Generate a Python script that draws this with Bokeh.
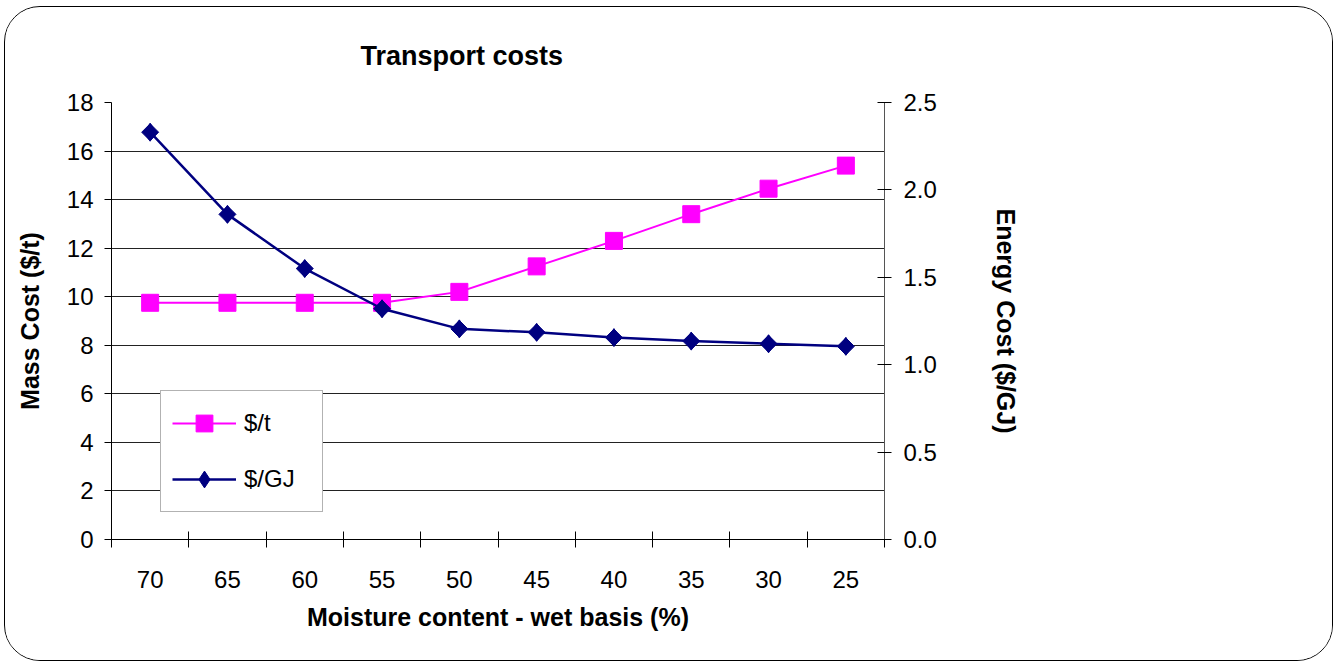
import math
from bokeh.plotting import figure
from bokeh.models import (Range1d, LinearAxis, FixedTicker, NumeralTickFormatter,
                          Legend, LegendItem, ColumnDataSource)
from bokeh.embed import file_html
from bokeh.resources import INLINE

# ---- data ----
title_text = "Transport costs"
categories = ["70", "65", "60", "55", "50", "45", "40", "35", "30", "25"]
mass_cost = [9.75, 9.75, 9.75, 9.75, 10.2, 11.25, 12.3, 13.4, 14.45, 15.4]      # $/t
energy_cost = [2.33, 1.86, 1.55, 1.32, 1.205, 1.185, 1.155, 1.135, 1.12, 1.105]  # $/GJ
left_ticks = [0, 2, 4, 6, 8, 10, 12, 14, 16, 18]
right_ticks = [0.0, 0.5, 1.0, 1.5, 2.0, 2.5]

FONT = "Liberation Sans"
PINK = "#FF00FF"
NAVY = "#000080"
TXT = "black"

n = len(categories)
centers = [i + 0.5 for i in range(n)]
bounds = [i for i in range(n + 1)]

src = ColumnDataSource(dict(x=centers, mass=mass_cost, energy=energy_cost,
                            cat=categories))

W, H = 1329, 655
BL, BR, BT, BB = 106, 450, 95, 123

p = figure(width=W, height=H, x_range=Range1d(0, n), y_range=Range1d(0, 18),
           output_backend="svg", toolbar_location=None,
           min_border_left=BL, min_border_right=BR,
           min_border_top=BT, min_border_bottom=BB,
           x_axis_location=None, y_axis_location=None)
p.styles = {"margin-left": "4px", "margin-top": "6px", "border": "1px solid #000",
            "border-radius": "36px", "overflow": "hidden"}
p.outline_line_color = None
p.background_fill_color = "white"
p.border_fill_color = "white"

p.extra_y_ranges = {"energy": Range1d(0, 2.5)}

# title
p.title.text = title_text
p.title.text_font = FONT
p.title.text_font_size = "27px"
p.title.text_font_style = "bold"
p.title.text_color = TXT
p.title.align = "left"
p.title.offset = 249
p.title.vertical_align = "top"
p.title.standoff = 60

# bottom axis
xaxis = LinearAxis(ticker=FixedTicker(ticks=centers, minor_ticks=bounds),
                   major_label_overrides={c: lab for c, lab in zip(centers, categories)})
xaxis.axis_label = "Moisture content - wet basis (%)"
xaxis.axis_label_text_font = FONT
xaxis.axis_label_text_font_size = "25px"
xaxis.axis_label_text_font_style = "bold"
xaxis.axis_label_text_color = TXT
xaxis.axis_label_standoff = 12
xaxis.major_label_text_font = FONT
xaxis.major_label_text_font_size = "24px"
xaxis.major_label_text_color = TXT
xaxis.major_label_standoff = 23
xaxis.major_tick_line_color = None
xaxis.major_tick_in = 0
xaxis.major_tick_out = 8
xaxis.minor_tick_in = 8
xaxis.minor_tick_out = 8
xaxis.minor_tick_line_color = "black"
xaxis.axis_line_color = "black"
p.add_layout(xaxis, "below")

# left axis
yaxis = LinearAxis(ticker=FixedTicker(ticks=left_ticks))
yaxis.axis_label = "Mass Cost ($/t)"
yaxis.axis_label_text_font = FONT
yaxis.axis_label_text_font_size = "25px"
yaxis.axis_label_text_font_style = "bold"
yaxis.axis_label_text_color = TXT
yaxis.axis_label_standoff = 20
yaxis.major_label_text_font = FONT
yaxis.major_label_text_font_size = "24px"
yaxis.major_label_text_color = TXT
yaxis.major_label_standoff = 11
yaxis.major_tick_in = 0
yaxis.major_tick_out = 7
yaxis.minor_tick_line_color = None
yaxis.axis_line_color = "black"
p.add_layout(yaxis, "left")

# right axis
raxis = LinearAxis(y_range_name="energy", ticker=FixedTicker(ticks=right_ticks),
                   formatter=NumeralTickFormatter(format="0.0"))
raxis.axis_label = "Energy Cost ($/GJ)"
raxis.axis_label_text_font = FONT
raxis.axis_label_text_font_size = "25px"
raxis.axis_label_text_font_style = "bold"
raxis.axis_label_text_color = TXT
raxis.axis_label_standoff = 52
raxis.major_label_text_font = FONT
raxis.major_label_text_font_size = "24px"
raxis.major_label_text_color = TXT
raxis.major_label_standoff = 12
raxis.major_tick_in = 7
raxis.major_tick_out = 7
raxis.minor_tick_line_color = None
raxis.axis_line_color = "#555555"
p.add_layout(raxis, "right")

# grid
p.xgrid.visible = False
p.ygrid.ticker = FixedTicker(ticks=left_ticks)
p.ygrid.grid_line_color = "#222222"
p.ygrid.grid_line_width = 1

# series
l1 = p.line("x", "mass", source=src, line_color=PINK, line_width=2)
s1 = p.scatter("x", "mass", source=src, marker="square", size=17,
               fill_color=PINK, line_color=PINK)
l2 = p.line("x", "energy", source=src, y_range_name="energy",
            line_color=NAVY, line_width=2.5)
s2 = p.scatter("x", "energy", source=src, y_range_name="energy", marker="square",
               angle=math.pi / 4, size=12, fill_color=NAVY, line_color=NAVY)
d2 = p.scatter("x", "energy", source=src, y_range_name="energy", marker="diamond",
               size=18, fill_color=NAVY, line_color=NAVY)

legend = Legend(items=[LegendItem(label="$/t", renderers=[l1, s1]),
                       LegendItem(label="$/GJ", renderers=[l2, d2])],
                location=(49, 27), margin=0, padding=11,
                glyph_width=64, glyph_height=42, label_height=42,
                label_width=67, label_standoff=8, spacing=14,
                label_text_font=FONT, label_text_font_size="24px",
                label_text_color=TXT,
                border_line_color="#666666", border_line_width=1,
                background_fill_color="white", background_fill_alpha=1.0)
p.add_layout(legend)

open("out.html", "w").write(file_html(p, INLINE))
